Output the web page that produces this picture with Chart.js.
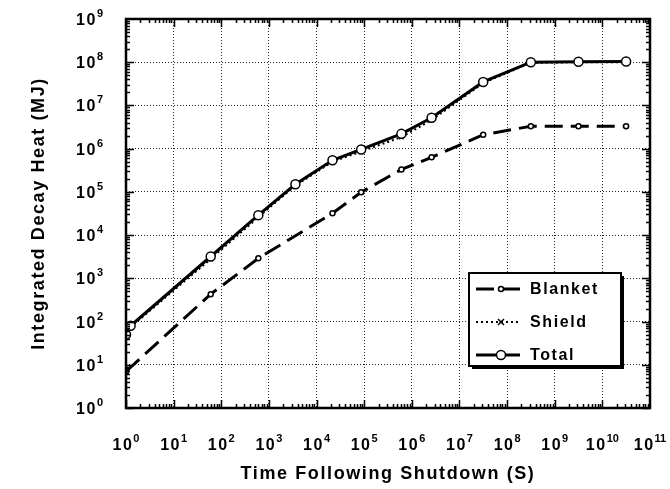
<!DOCTYPE html>
<html>
<head>
<meta charset="utf-8">
<script src="https://cdn.jsdelivr.net/npm/chart.js@4.4.1/dist/chart.umd.min.js"></script>
<style>
  html, body { margin: 0; padding: 0; background: #fff; }
  #wrap { width: 670px; height: 489px; }
</style>
</head>
<body>
<div id="wrap"><canvas id="decayChart" width="670" height="489"></canvas></div>
<script>
// time following shutdown (s): 1 s, ~1 min, 10 min, 1 h, 6 h, 1 d, 1 wk, 1 mo, 1 y, 10 y, 100 y, 1000 y
const totalTimes = [1, 1.25, 60, 600, 3600, 21600, 86400, 604800, 2.6e6, 3.15e7, 3.15e8, 3.15e9, 3.15e10];
const totalHeat  = [50, 80, 3200, 29000, 1.5e5, 5.4e5, 9.6e5, 2.2e6, 5.2e6, 3.5e7, 1.0e8, 1.03e8, 1.04e8];
const shieldHeat = [45, 75, 2800, 26000, 1.4e5, 5.0e5, 8.6e5, 1.85e6, 4.6e6, 3.3e7, 9.7e7, 1.0e8, 1.0e8];

const blanketTimes = [1, 60, 600, 21600, 86400, 604800, 2.6e6, 3.15e7, 3.15e8, 3.15e9, 3.15e10];
const blanketHeat  = [7, 430, 2900, 3.2e4, 9.8e4, 3.3e5, 6.3e5, 2.1e6, 3.3e6, 3.3e6, 3.3e6];

const xTicks = [1, 1e1, 1e2, 1e3, 1e4, 1e5, 1e6, 1e7, 1e8, 1e9, 1e10, 1e11];
const yTicks = [1, 1e1, 1e2, 1e3, 1e4, 1e5, 1e6, 1e7, 1e8, 1e9];

const FONT = "'Liberation Sans', Arial, Helvetica, sans-serif";

function pairs(xs, ys) {
    return xs.map((x, i) => ({ x: x, y: ys[i] }));
}

// "10" with a raised exponent; align: 'center' or 'right'
function drawPower(ctx, v, x, y, align) {
    const exp = String(Math.round(Math.log10(v)));
    ctx.letterSpacing = '1.5px';
    ctx.font = 'bold 16px ' + FONT;
    const wBase = ctx.measureText('10').width;
    ctx.letterSpacing = '0px';
    ctx.font = 'bold 11px ' + FONT;
    const wExp = ctx.measureText(exp).width;
    const total = wBase + wExp;
    const x0 = align === 'right' ? x - total : x - total / 2;
    ctx.textAlign = 'left';
    ctx.textBaseline = 'alphabetic';
    ctx.letterSpacing = '1.5px';
    ctx.font = 'bold 16px ' + FONT;
    ctx.fillText('10', x0, y + 6);
    ctx.letterSpacing = '0px';
    ctx.font = 'bold 11px ' + FONT;
    ctx.fillText(exp, x0 + wBase, y - 2);
}

const spacing = {
    id: 'spacing',
    beforeDraw(chart) { chart.ctx.letterSpacing = '1.6px'; }
};

// thick frame with inward ruler ticks, plus the power-of-ten tick labels
const frameTicks = {
    id: 'frameTicks',
    afterDraw(chart) {
        const ctx = chart.ctx;
        const a = chart.chartArea;
        const xs = chart.scales.x, ys = chart.scales.y;
        ctx.save();
        ctx.strokeStyle = '#000';
        ctx.lineWidth = 1.5;
        ctx.beginPath();
        for (let d = 0; d < 11; d++) {
            for (let k = 1; k <= 9; k++) {
                const px = Math.round(xs.getPixelForValue(k * Math.pow(10, d))) + 0.5;
                const len = k === 1 ? 8 : 4;
                ctx.moveTo(px, a.bottom); ctx.lineTo(px, a.bottom - len);
                ctx.moveTo(px, a.top); ctx.lineTo(px, a.top + len);
            }
        }
        for (let d = 0; d < 9; d++) {
            for (let k = 1; k <= 9; k++) {
                const py = Math.round(ys.getPixelForValue(k * Math.pow(10, d))) + 0.5;
                const len = k === 1 ? 8 : 4;
                ctx.moveTo(a.left, py); ctx.lineTo(a.left + len, py);
                ctx.moveTo(a.right, py); ctx.lineTo(a.right - len, py);
            }
        }
        ctx.stroke();
        ctx.lineWidth = 2.5;
        ctx.strokeRect(a.left, a.top, a.right - a.left, a.bottom - a.top);

        ctx.fillStyle = '#000';
        xTicks.forEach(v => drawPower(ctx, v, xs.getPixelForValue(v), 444, 'center'));
        yTicks.forEach(v => drawPower(ctx, v, 103, ys.getPixelForValue(v), 'right'));
        ctx.restore();
    }
};

// boxed legend with drop shadow inside the plot
const boxLegend = {
    id: 'boxLegend',
    afterDraw(chart) {
        const ctx = chart.ctx;
        const bx = 469, by = 273, bw = 152, bh = 93;
        ctx.save();
        ctx.fillStyle = '#000';
        ctx.fillRect(bx + 3, by + 3, bw, bh);
        ctx.fillStyle = '#fff';
        ctx.fillRect(bx, by, bw, bh);
        ctx.strokeStyle = '#000';
        ctx.lineWidth = 2;
        ctx.strokeRect(bx, by, bw, bh);

        const order = [2, 1, 0]; // Blanket, Shield, Total
        const rows = [289, 322, 355];
        order.forEach((idx, r) => {
            const ds = chart.data.datasets[idx];
            const y = rows[r];
            ctx.beginPath();
            ctx.setLineDash(ds.borderDash || []);
            ctx.lineWidth = ds.borderWidth;
            ctx.strokeStyle = '#000';
            ctx.moveTo(476, y);
            ctx.lineTo(520, y);
            ctx.stroke();
            ctx.setLineDash([]);
            const mx = 501;
            ctx.lineWidth = ds.pointBorderWidth;
            if (ds.pointStyle === 'crossRot') {
                const s = ds.pointRadius;
                ctx.beginPath();
                ctx.moveTo(mx - s, y - s); ctx.lineTo(mx + s, y + s);
                ctx.moveTo(mx - s, y + s); ctx.lineTo(mx + s, y - s);
                ctx.stroke();
            } else {
                ctx.beginPath();
                ctx.arc(mx, y, ds.pointRadius, 0, Math.PI * 2);
                ctx.fillStyle = '#fff';
                ctx.fill();
                ctx.stroke();
            }
            ctx.fillStyle = '#000';
            ctx.letterSpacing = '1.6px';
            ctx.font = 'bold 16px ' + FONT;
            ctx.textBaseline = 'middle';
            ctx.textAlign = 'left';
            ctx.fillText(ds.label, 530, y + 1);
        });
        ctx.restore();
    }
};

function noPad(scale) {
    scale.paddingTop = 0;
    scale.paddingBottom = 0;
    scale.paddingLeft = 0;
    scale.paddingRight = 0;
}

const ctx = document.getElementById('decayChart').getContext('2d');
const decayChart = new Chart(ctx, {
    type: 'line',
    data: {
        datasets: [{
            label: 'Total',
            data: pairs(totalTimes, totalHeat),
            borderColor: '#000',
            borderWidth: 3,
            pointStyle: 'circle',
            pointRadius: 4.5,
            pointBorderWidth: 1.5,
            pointBackgroundColor: '#fff',
            pointBorderColor: '#000',
            tension: 0
        }, {
            label: 'Shield',
            data: pairs(totalTimes, shieldHeat),
            borderColor: '#000',
            borderWidth: 2,
            borderDash: [2, 3],
            pointStyle: 'crossRot',
            pointRadius: 3,
            pointBorderWidth: 1.5,
            pointBorderColor: '#000',
            tension: 0
        }, {
            label: 'Blanket',
            data: pairs(blanketTimes, blanketHeat),
            borderColor: '#000',
            borderWidth: 3,
            borderDash: [18, 8],
            pointStyle: 'circle',
            pointRadius: 2.5,
            pointBorderWidth: 1.5,
            pointBackgroundColor: '#fff',
            pointBorderColor: '#000',
            tension: 0
        }]
    },
    options: {
        responsive: false,
        animation: false,
        devicePixelRatio: 1,
        layout: { padding: { left: 0, right: 20, top: 19, bottom: 0 } },
        plugins: {
            legend: { display: false },
            tooltip: { enabled: false }
        },
        scales: {
            x: {
                type: 'logarithmic',
                min: 1,
                max: 1e11,
                afterBuildTicks: scale => { scale.ticks = xTicks.map(v => ({ value: v })); },
                afterFit: scale => { scale.height = 81; noPad(scale); },
                grid: { color: '#222', lineWidth: 1, drawTicks: false },
                border: { display: false, dash: [1, 2] },
                ticks: { display: false },
                title: {
                    display: true,
                    text: 'Time Following Shutdown (S)',
                    color: '#000',
                    font: { family: FONT, size: 18, weight: 'bold' },
                    padding: { top: 0, bottom: 4 }
                }
            },
            y: {
                type: 'logarithmic',
                min: 1,
                max: 1e9,
                afterBuildTicks: scale => { scale.ticks = yTicks.map(v => ({ value: v })); },
                afterFit: scale => { scale.width = 126; noPad(scale); },
                grid: { color: '#222', lineWidth: 1, drawTicks: false },
                border: { display: false, dash: [1, 2] },
                ticks: { display: false },
                title: {
                    display: true,
                    text: 'Integrated Decay Heat (MJ)',
                    color: '#000',
                    font: { family: FONT, size: 18, weight: 'bold' },
                    padding: { top: 28, bottom: 0 }
                }
            }
        }
    },
    plugins: [spacing, frameTicks, boxLegend]
});
</script>
</body>
</html>
